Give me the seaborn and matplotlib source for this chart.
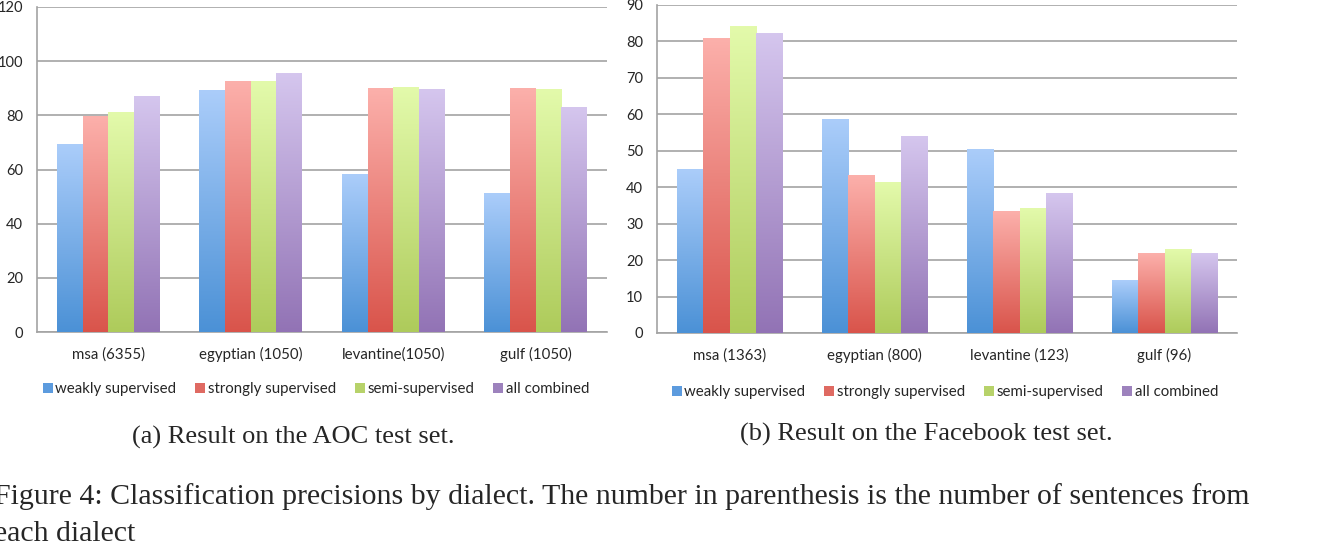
import numpy as np
import pandas as pd
import matplotlib
matplotlib.use("Agg")
import matplotlib.pyplot as plt
from matplotlib.colors import LinearSegmentedColormap
from matplotlib.lines import Line2D
import seaborn as sns

# ------------------------------------------------------------
# data
# ------------------------------------------------------------
methods = ["weakly supervised", "strongly supervised", "semi-supervised", "all combined"]

aoc_dialects = ["msa (6355)", "egyptian (1050)", "levantine(1050)", "gulf (1050)"]
aoc_weak = [69.3, 89.3, 58.3, 51.3]
aoc_strong = [79.5, 92.5, 89.8, 89.8]
aoc_semi = [80.9, 92.5, 90.1, 89.4]
aoc_all = [86.8, 95.4, 89.7, 83.0]

fb_dialects = ["msa (1363)", "egyptian (800)", "levantine (123)", "gulf (96)"]
fb_weak = [45.0, 58.5, 50.3, 14.5]
fb_strong = [80.7, 43.1, 33.3, 21.9]
fb_semi = [84.0, 41.2, 34.1, 22.9]
fb_all = [82.2, 53.9, 38.2, 21.9]

aoc_yticks = [0, 20, 40, 60, 80, 100, 120]
fb_yticks = [0, 10, 20, 30, 40, 50, 60, 70, 80, 90]

sub_a = "(a) Result on the AOC test set."
sub_b = "(b) Result on the Facebook test set."
caption1 = ("Figure 4: Classification precisions by dialect. The number in parenthesis "
            "is the number of sentences from")
caption2 = "each dialect"

# bottom (dark) -> top (light) colours of the bar gradients
DARK = ["#4b91d6", "#d9544b", "#aecb5b", "#9273b5"]
LIGHT = ["#abcdfa", "#fcb0ab", "#e3faab", "#d5c6ee"]
MID = ["#5c9bde", "#df6a62", "#b7d26a", "#9d82bd"]

GRID = "#a3a3a3"
FONT = "Lato"


def long_df(dialects, series):
    rows = []
    for m, vals in zip(methods, series):
        for d, v in zip(dialects, vals):
            rows.append({"dialect": d, "method": m, "value": v})
    return pd.DataFrame(rows)


def draw_panel(ax, df, dialects, yticks):
    sns.barplot(data=df, x="dialect", y="value", hue="method", order=dialects,
                hue_order=methods, palette=MID, width=0.72, legend=False,
                errorbar=None, ax=ax, zorder=2, linewidth=0)
    # vertical gradient on every bar
    grad = np.linspace(0, 1, 256).reshape(-1, 1)
    for i, cont in enumerate(ax.containers):
        cmap = LinearSegmentedColormap.from_list(f"g{i}", [DARK[i], LIGHT[i]])
        for bar in cont:
            x0, y0 = bar.get_x(), bar.get_y()
            w, h = bar.get_width(), bar.get_height()
            ax.imshow(grad, cmap=cmap, origin="lower", aspect="auto",
                      extent=(x0, x0 + w, y0, y0 + h), zorder=3,
                      interpolation="bilinear")
    ax.set_xlim(-0.5, len(dialects) - 0.5)
    ax.set_ylim(yticks[0], yticks[-1])
    ax.set_yticks(yticks)
    ax.set_xlabel("")
    ax.set_ylabel("")
    ax.yaxis.grid(True, color=GRID, linewidth=1.2, zorder=0)
    ax.xaxis.grid(False)
    ax.set_axisbelow(True)
    for s in ["top", "right"]:
        ax.spines[s].set_visible(False)
    for s in ["left", "bottom"]:
        ax.spines[s].set_color(GRID)
        ax.spines[s].set_linewidth(1.2)
    ax.set_xticks(np.arange(-0.5, len(dialects), 1.0), minor=True)
    ax.tick_params(axis="x", which="minor", length=4, width=1.0, color=GRID, direction="out")
    ax.tick_params(axis="x", which="major", length=0, pad=11, labelsize=10.8)
    ax.tick_params(axis="y", length=4, width=1.0, color=GRID, pad=6, labelsize=10.5)
    for lab in ax.get_xticklabels() + ax.get_yticklabels():
        lab.set_fontfamily(FONT)


sns.set_style("white")
plt.rcParams["font.family"] = [FONT, "DejaVu Sans"]

fig = plt.figure(figsize=(13.4, 5.42), dpi=100)
ax1 = fig.add_axes([37 / 1340, 1 - 332 / 542, 570 / 1340, 325 / 542])
ax2 = fig.add_axes([657 / 1340, 1 - 333 / 542, 580 / 1340, 328 / 542])

draw_panel(ax1, long_df(aoc_dialects, [aoc_weak, aoc_strong, aoc_semi, aoc_all]),
           aoc_dialects, aoc_yticks)
draw_panel(ax2, long_df(fb_dialects, [fb_weak, fb_strong, fb_semi, fb_all]),
           fb_dialects, fb_yticks)

handles = [Line2D([], [], marker="s", linestyle="", markersize=6.5,
                  markerfacecolor=c, markeredgewidth=0) for c in MID]
for xc, yfig in [(316 / 1340, 1 - 389 / 542), (945 / 1340, 1 - 392 / 542)]:
    fig.legend(handles, methods, loc="center", ncol=4, frameon=False,
               bbox_to_anchor=(xc, yfig),
               handlelength=0.6, handletextpad=0.2, columnspacing=1.3,
               prop={"family": FONT, "size": 10.8})

serif = ["Liberation Serif", "DejaVu Serif"]
fig.text(293 / 1340, 1 - 437 / 542, sub_a, ha="center", va="center",
         family=serif, fontsize=19)
fig.text(926 / 1340, 1 - 434 / 542, sub_b, ha="center", va="center",
         family=serif, fontsize=19)
fig.text(-6 / 1340, 1 - 497 / 542, caption1, ha="left", va="center",
         family=serif, fontsize=21.5)
fig.text(-6 / 1340, 1 - 534 / 542, caption2, ha="left", va="center",
         family=serif, fontsize=21.5)

fig.savefig("out.png", dpi=100)
